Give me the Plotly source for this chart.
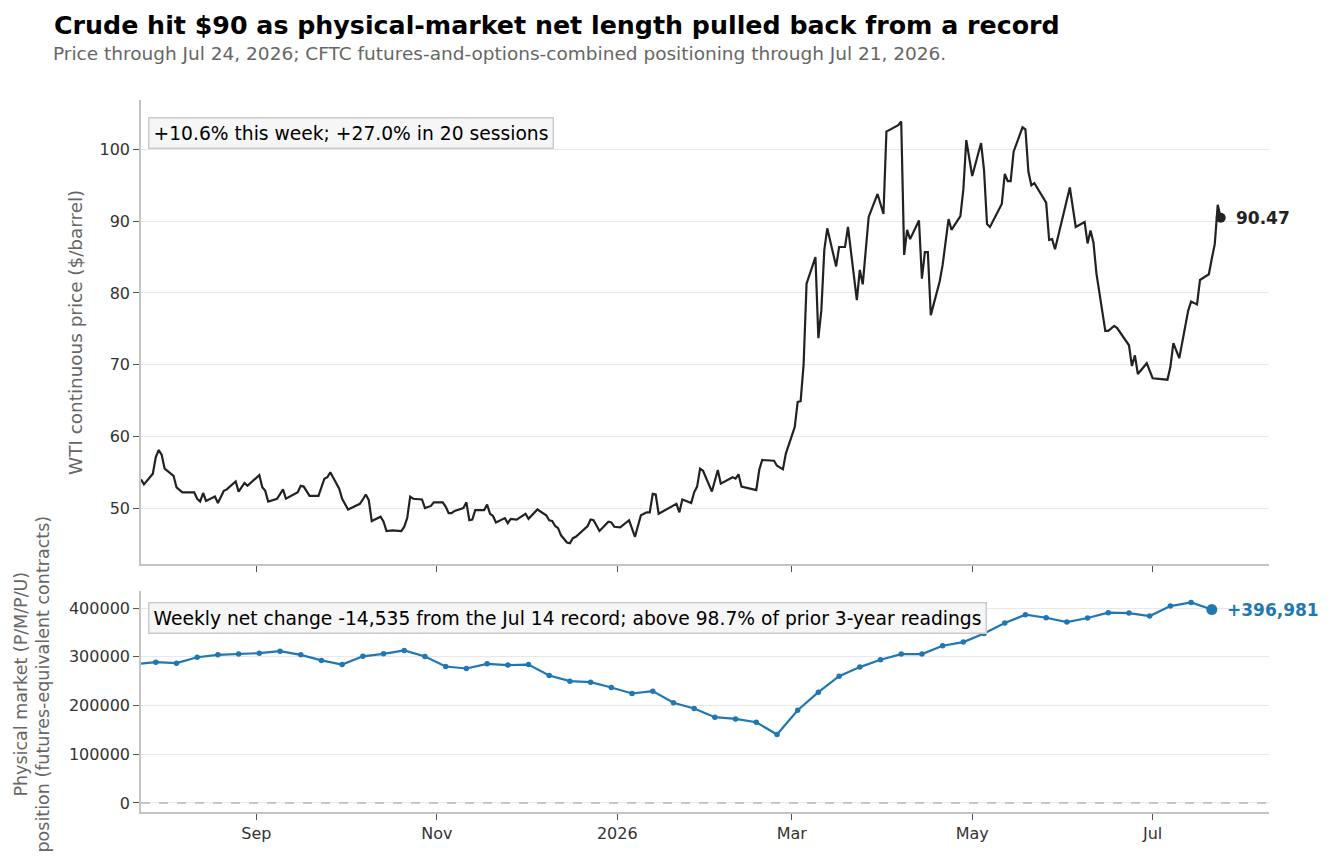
import pandas as pd
import plotly.graph_objects as go

# WTI continuous price ($/barrel)
price_dates = [
    '2025-07-24', '2025-07-25', '2025-07-28', '2025-07-29', '2025-07-30', '2025-07-31', '2025-08-01',
    '2025-08-04', '2025-08-05', '2025-08-07', '2025-08-11', '2025-08-12', '2025-08-13', '2025-08-14',
    '2025-08-15', '2025-08-18', '2025-08-19', '2025-08-21', '2025-08-22', '2025-08-25', '2025-08-26',
    '2025-08-28', '2025-08-29', '2025-09-02', '2025-09-03', '2025-09-04', '2025-09-05', '2025-09-08',
    '2025-09-10', '2025-09-11', '2025-09-15', '2025-09-16', '2025-09-17', '2025-09-19', '2025-09-22',
    '2025-09-24', '2025-09-25', '2025-09-26', '2025-09-29', '2025-09-30', '2025-10-02', '2025-10-06',
    '2025-10-07', '2025-10-08', '2025-10-09', '2025-10-10', '2025-10-13', '2025-10-14', '2025-10-15',
    '2025-10-17', '2025-10-20', '2025-10-21', '2025-10-22', '2025-10-23', '2025-10-24', '2025-10-27',
    '2025-10-28', '2025-10-30', '2025-10-31', '2025-11-03', '2025-11-04', '2025-11-05', '2025-11-06',
    '2025-11-07', '2025-11-10', '2025-11-11', '2025-11-12', '2025-11-13', '2025-11-14', '2025-11-17',
    '2025-11-18', '2025-11-19', '2025-11-20', '2025-11-21', '2025-11-24', '2025-11-25', '2025-11-26',
    '2025-11-28', '2025-12-01', '2025-12-02', '2025-12-05', '2025-12-08', '2025-12-09', '2025-12-10',
    '2025-12-11', '2025-12-12', '2025-12-13', '2025-12-15', '2025-12-16', '2025-12-17', '2025-12-18',
    '2025-12-22', '2025-12-23', '2025-12-24', '2025-12-26', '2025-12-29', '2025-12-30', '2025-12-31',
    '2026-01-02', '2026-01-05', '2026-01-07', '2026-01-09', '2026-01-11', '2026-01-12', '2026-01-13',
    '2026-01-14', '2026-01-15', '2026-01-18', '2026-01-21', '2026-01-22', '2026-01-23', '2026-01-26',
    '2026-01-27', '2026-01-28', '2026-01-29', '2026-01-30', '2026-02-02', '2026-02-04', '2026-02-05',
    '2026-02-09', '2026-02-10', '2026-02-11', '2026-02-12', '2026-02-17', '2026-02-18', '2026-02-19',
    '2026-02-21', '2026-02-23', '2026-02-24', '2026-02-26', '2026-02-27', '2026-03-02', '2026-03-03',
    '2026-03-04', '2026-03-05', '2026-03-06', '2026-03-09', '2026-03-10', '2026-03-11', '2026-03-12',
    '2026-03-13', '2026-03-16', '2026-03-17', '2026-03-19', '2026-03-20', '2026-03-23', '2026-03-24',
    '2026-03-25', '2026-03-27', '2026-03-30', '2026-04-01', '2026-04-02', '2026-04-06', '2026-04-07',
    '2026-04-08', '2026-04-09', '2026-04-10', '2026-04-13', '2026-04-14', '2026-04-15', '2026-04-16',
    '2026-04-17', '2026-04-20', '2026-04-21', '2026-04-23', '2026-04-24', '2026-04-27', '2026-04-28',
    '2026-04-29', '2026-05-01', '2026-05-04', '2026-05-05', '2026-05-06', '2026-05-07', '2026-05-11',
    '2026-05-12', '2026-05-13', '2026-05-14', '2026-05-15', '2026-05-18', '2026-05-19', '2026-05-20',
    '2026-05-21', '2026-05-22', '2026-05-26', '2026-05-27', '2026-05-28', '2026-05-29', '2026-06-03',
    '2026-06-05', '2026-06-08', '2026-06-09', '2026-06-10', '2026-06-11', '2026-06-12', '2026-06-15',
    '2026-06-16', '2026-06-18', '2026-06-19', '2026-06-23', '2026-06-24', '2026-06-25', '2026-06-26',
    '2026-06-29', '2026-07-01', '2026-07-06', '2026-07-07', '2026-07-08', '2026-07-10', '2026-07-13',
    '2026-07-14', '2026-07-16', '2026-07-17', '2026-07-20', '2026-07-21', '2026-07-22', '2026-07-23',
    '2026-07-24',
]
price_values = [
    54.0, 53.3, 54.8, 57.1, 58.1, 57.4, 55.5,
    54.5, 52.9, 52.2, 52.2, 51.3, 50.9, 52.1,
    51.0, 51.6, 50.7, 52.4, 52.6, 53.7, 52.3,
    53.5, 53.1, 54.6, 52.9, 52.4, 50.9, 51.3,
    52.6, 51.3, 52.2, 53.1, 53.0, 51.7, 51.7,
    54.1, 54.3, 55.0, 52.7, 51.3, 49.8, 50.6,
    51.2, 51.9, 51.1, 48.2, 48.8, 48.1, 46.8,
    46.9, 46.8, 47.4, 48.6, 51.6, 51.3, 51.2,
    50.0, 50.3, 50.8, 50.8, 50.2, 49.3, 49.3,
    49.6, 50.0, 50.8, 48.3, 48.4, 49.7, 49.7,
    50.5, 49.2, 48.9, 48.0, 48.6, 47.9, 48.5,
    48.4, 49.2, 48.5, 49.8, 49.0, 48.3, 48.2,
    47.5, 47.2, 46.2, 45.2, 45.1, 45.8, 46.0,
    47.5, 48.4, 48.3, 46.8, 48.1, 48.0, 47.4,
    47.3, 48.3, 46.0, 49.0, 49.4, 49.4, 52.0,
    51.9, 49.2, 49.9, 50.6, 49.4, 51.2, 50.7,
    52.2, 53.0, 55.5, 55.2, 52.3, 55.3, 53.4,
    54.3, 54.1, 54.7, 53.0, 52.5, 55.3, 56.7,
    56.7, 56.6, 55.9, 55.4, 57.6, 61.3, 64.8,
    64.9, 70.0, 81.3, 85.0, 73.7, 77.6, 86.0,
    89.0, 83.7, 86.4, 86.4, 89.2, 79.0, 83.2,
    81.2, 90.6, 93.8, 91.0, 102.5, 103.4, 103.9,
    85.3, 88.8, 87.5, 90.1, 82.0, 85.7, 85.7,
    76.9, 81.6, 83.9, 90.3, 88.8, 90.7, 94.4,
    101.3, 96.3, 100.9, 97.1, 89.6, 89.2, 92.4,
    96.6, 95.6, 95.6, 99.7, 103.1, 102.8, 96.9,
    95.0, 95.3, 92.6, 87.4, 87.5, 86.1, 94.7,
    89.2, 89.9, 86.9, 88.7, 87.0, 82.7, 74.7,
    74.7, 75.4, 75.1, 72.7, 69.8, 71.3, 68.7,
    70.2, 68.1, 67.9, 69.7, 73.0, 70.9, 77.5,
    78.8, 78.4, 81.8, 82.6, 84.8, 86.8, 92.3,
    90.47,
]

# CFTC physical-market (P/M/P/U) net position, weekly (Tuesdays)
cftc_dates = pd.date_range('2025-07-22', '2026-07-21', freq='7D')
cftc_net = [
    285000, 289000, 287000, 299000, 304000, 305500, 307500, 311600, 304000, 292500,
    284000, 301000, 306000, 313000, 300700, 280000, 276000, 285600, 283000, 284000,
    261600, 250000, 248000, 237000, 224700, 229500, 205800, 193800, 176000, 172600,
    165800, 140400, 190400, 227400, 260300, 278800, 293800, 305500, 305500, 322600,
    330100, 347900, 369200, 386300, 380100, 371200, 379500, 390400, 389700, 383600,
    404100, 411516, 396981,
]

month_ticks = ['2025-09-01', '2025-11-01', '2026-01-01', '2026-03-01', '2026-05-01', '2026-07-01']
month_labels = ['Sep', 'Nov', '2026', 'Mar', 'May', 'Jul']

price_note = '+10.6% this week; +27.0% in 20 sessions'
cftc_note = 'Weekly net change -14,535 from the Jul 14 record; above 98.7% of prior 3-year readings'

FONT = 'DejaVu Sans'
BLUE = '#1f77b4'
DARK = '#222222'

fig = go.Figure()

fig.add_trace(go.Scatter(x=price_dates, y=price_values, mode='lines',
                         line=dict(color=DARK, width=2.2), xaxis='x', yaxis='y'))
fig.add_trace(go.Scatter(x=[price_dates[-1]], y=[price_values[-1]], mode='markers',
                         marker=dict(color=DARK, size=10), xaxis='x', yaxis='y'))
fig.add_trace(go.Scatter(x=cftc_dates, y=cftc_net, mode='lines+markers',
                         line=dict(color=BLUE, width=2.2), marker=dict(color=BLUE, size=5.5),
                         xaxis='x2', yaxis='y2'))
fig.add_trace(go.Scatter(x=[cftc_dates[-1]], y=[cftc_net[-1]], mode='markers',
                         marker=dict(color=BLUE, size=11), xaxis='x2', yaxis='y2'))

x_range = ['2025-07-24', '2026-08-09 08:00']
axis_common = dict(showline=True, linecolor='#c4c4c4', linewidth=1.6, ticks='outside',
                   ticklen=6, tickwidth=1.3, tickcolor='#555555', zeroline=False,
                   tickfont=dict(family=FONT, size=16, color='#333333'))

fig.update_layout(
    width=1334, height=858,
    margin=dict(l=141, r=65, t=100, b=46),
    paper_bgcolor='white', plot_bgcolor='white',
    showlegend=False,
    font=dict(family=FONT, color='#333333'),
    title=dict(text='<b>Crude hit $90 as physical-market net length pulled back from a record</b>',
               font=dict(family=FONT, size=25.3, color='black'),
               xref='container', x=54 / 1334, xanchor='left',
               yref='container', y=1 - 25 / 858, yanchor='middle'),
    xaxis=dict(domain=[0, 1], anchor='y', range=x_range, matches='x2', showgrid=False,
               tickvals=month_ticks, ticktext=month_labels, showticklabels=False, **axis_common),
    xaxis2=dict(domain=[0, 1], anchor='y2', range=x_range, showgrid=False,
                tickvals=month_ticks, ticktext=month_labels, **axis_common),
    yaxis=dict(domain=[0.3483, 1], anchor='x', range=[42.2, 106.9],
               tickvals=[50, 60, 70, 80, 90, 100], showgrid=True, gridcolor='#e8e8e8',
               gridwidth=1.2, **axis_common),
    yaxis2=dict(domain=[0, 0.3104], anchor='x2', range=[-18500, 435000],
                tickvals=[0, 100000, 200000, 300000, 400000], tickformat='d',
                showgrid=True, gridcolor='#e8e8e8', gridwidth=1.2, **axis_common),
)

# dashed zero line on the positioning panel
fig.add_shape(type='line', xref='x2 domain', x0=0, x1=1, yref='y2', y0=0, y1=0,
              line=dict(color='#999999', width=1.2, dash='dash'))

annotations = [
    dict(text='Price through Jul 24, 2026; CFTC futures-and-options-combined positioning through Jul 21, 2026.',
         xref='paper', yref='paper', x=(51 - 141) / 1128, y=(812 - 54) / 712,
         xanchor='left', yanchor='middle', showarrow=False,
         font=dict(family=FONT, size=18.5, color='#666666')),
    dict(text=price_note, xref='x domain', yref='y domain', x=0.0062, y=0.963,
         xanchor='left', yanchor='top', showarrow=False, bgcolor='#f6f6f6',
         bordercolor='#cccccc', borderwidth=1.5, borderpad=4,
         font=dict(family=FONT, size=18.7, color='black')),
    dict(text=cftc_note, xref='x2 domain', yref='y2 domain', x=0.0062, y=0.95,
         xanchor='left', yanchor='top', showarrow=False, bgcolor='#f6f6f6',
         bordercolor='#cccccc', borderwidth=1.5, borderpad=4,
         font=dict(family=FONT, size=18.7, color='black')),
    dict(text=f'<b>{price_values[-1]:.2f}</b>', xref='x', yref='y',
         x=price_dates[-1], y=price_values[-1], xanchor='left', yanchor='middle',
         xshift=13, showarrow=False, font=dict(family=FONT, size=17, color=DARK)),
    dict(text=f'<b>{cftc_net[-1]:+,}</b>', xref='x2', yref='y2',
         x=cftc_dates[-1], y=cftc_net[-1], xanchor='left', yanchor='middle',
         xshift=13, showarrow=False, font=dict(family=FONT, size=17, color=BLUE)),
    dict(text='WTI continuous price ($/barrel)', xref='paper', yref='paper',
         x=(75 - 141) / 1128, y=(812 - 333) / 712, xanchor='center', yanchor='middle',
         textangle=-90, showarrow=False, font=dict(family=FONT, size=18.4, color='#666666')),
    dict(text='Physical market (P/M/P/U)<br>position (futures-equivalent contracts)',
         xref='paper', yref='paper', x=(31.5 - 141) / 1128, y=(812 - 684) / 712,
         xanchor='center', yanchor='middle', textangle=-90, showarrow=False,
         font=dict(family=FONT, size=17.5, color='#666666')),
]
for a in annotations:
    fig.add_annotation(**a)

# drop the default page margin so the figure sits at the window origin
fig.write_html('out.html', config={'displayModeBar': False},
               post_script="document.body.style.margin='0';")
